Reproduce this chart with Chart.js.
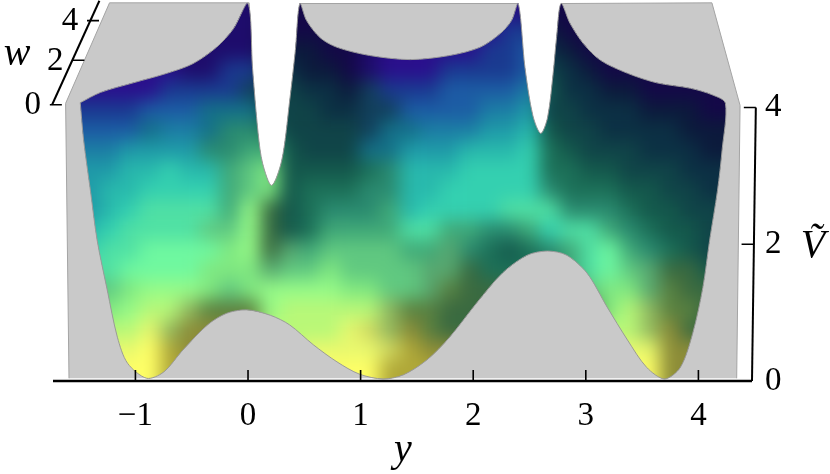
<!DOCTYPE html>
<html>
<head>
<meta charset="utf-8">
<style>
  body { margin: 0; background: #fff; }
  canvas { display: block; }
</style>
<script src="https://cdn.jsdelivr.net/npm/chart.js@4"></script>
</head>
<body>
<canvas id="surfaceChart" width="830" height="474"></canvas>
<script>
// axis ticks
const yTicks = [-1, 0, 1, 2, 3, 4];
const yTickLabels = ['\u22121', '0', '1', '2', '3', '4'];
const vTicks = [0, 2, 4];
const vTickAxisY = [4.476, 4.49, 4.51];
const wTickLabels = ['0', '2', '4'];
const wTickY = [-1.76, -1.56, -1.43];
const wTickV = [4.04, 4.69, 5.27];

// back walls of the box
const wallY = [-1.59, -1.62, -1.23, 0.01, 0.05, 0.21, 0.43, 0.46, 2.40, 2.44, 2.60, 2.75, 2.78, 4.12, 4.37, 4.34];
const wallV = [0.04, 4.06, 5.53, 5.53, 4.10, 1.18, 4.10, 5.52, 5.52, 4.10, 2.64, 4.69, 5.52, 5.53, 4.03, 0.04];

// outline of the surface as seen in the picture
const edgeY = [-1.49, -1.31, -1.02, -0.72, -0.49, -0.28, -0.13, 0.00,
  0.04, 0.09, 0.13, 0.21, 0.30, 0.37, 0.42, 0.46,
  0.52, 0.64, 0.79, 1.08, 1.44, 1.79, 2.06, 2.24, 2.34, 2.40,
  2.46, 2.53, 2.60, 2.66, 2.71, 2.74, 2.78,
  2.86, 2.98, 3.13, 3.37, 3.63, 3.93, 4.13, 4.24,
  4.21, 4.17, 4.10, 4.04, 3.95, 3.84, 3.70, 3.54, 3.37, 3.19, 3.01, 2.83, 2.66, 2.48, 2.26, 2.03, 1.79, 1.59, 1.38, 1.20, 0.99, 0.79, 0.58, 0.37, 0.20, -0.01, -0.19, -0.36, -0.58, -0.75, -0.90, -1.07, -1.16, -1.25, -1.34, -1.40, -1.46, -1.49];
const edgeV = [4.07, 4.22, 4.36, 4.50, 4.64, 4.88, 5.15, 5.52,
  4.58, 3.62, 3.18, 2.86, 3.23, 4.10, 4.83, 5.52,
  5.27, 5.02, 4.88, 4.76, 4.70, 4.76, 4.88, 5.08, 5.27, 5.52,
  4.58, 3.88, 3.62, 3.85, 4.50, 5.02, 5.52,
  5.23, 4.93, 4.69, 4.50, 4.36, 4.28, 4.18, 4.06,
  3.37, 2.79, 2.06, 1.37, 0.70, 0.20, 0.03, 0.20, 0.60, 1.08, 1.58, 1.84, 1.90, 1.84, 1.58, 1.14, 0.64, 0.31, 0.09, 0.03, 0.10, 0.28, 0.53, 0.82, 0.96, 1.04, 0.99, 0.82, 0.45, 0.13, 0.04, 0.26, 0.64, 1.33, 2.06, 2.79, 3.52, 4.07];

// axis lines
const xAxisY = [-1.732, 4.476];
const xAxisV = [0, 0];
const vAxisY = [4.476, 4.51];
const vAxisV = [0, 4];
const wAxisY = [-1.74, -1.32];
const wAxisV = [4.04, 5.56];

// colour samples, one letter per cell
const cellY = [-1.58, -1.40, -1.23, -1.05, -0.87, -0.69, -0.52, -0.34, -0.16, 0.02,
  0.20, 0.37, 0.55, 0.73, 0.91, 1.08, 1.26, 1.44, 1.62, 1.79,
  1.97, 2.15, 2.33, 2.50, 2.68, 2.86, 3.04, 3.21, 3.39, 3.57,
  3.75, 3.93, 4.10, 4.28];
const cellV = [5.42, 5.12, 4.83, 4.54, 4.25, 3.96, 3.66, 3.37, 3.08, 2.79, 2.50, 2.20, 1.91, 1.62, 1.33, 1.04, 0.74, 0.45, 0.16, -0.13];
const toneRows = [
  'NNNNNNNNNN OOOOOONMMM MMMNOOOOOO OOOO',
  'NNNNNNNNNN OOOOOONMMM MMLLPOOOOO OOOO',
  'NNNNNNNNNN PPPOONMMMM MLLKQPOOOO OOOO',
  'MMMMMMNNLL QQPPONMMML LLLKRQPOOO OOOO',
  'MMMMMLLLLe RRQQPeLLLK KKKJSQQPPO OOOO',
  'LLLLKKKddd RRRQQeeKKK KJJIRRQQQP PPOO',
  'KKKKdJJdUU TRRRReddJJ JIIHSRRQQQ QPPP',
  'JJJIIIIUUV VSRRRddIII HHHGTSRRRQ QQPP',
  'IIIHHGHHVW XSSSSTUHHH GGGGTTSSRR RQQQ',
  'IIHHGGGGVW XSTTTUUHHG GGGGUTTTSS RRQQ',
  'IIHGFFFFVD YSTUUUVHGG GGFFFUUUTS SRRR',
  'HHGFFFFWWD YSTVVVVFFV VUUVGFFVUT SSRR',
  'HGFFEEEEXD YcVWWWWVVc UTSTUVFEVU TSRR',
  'HFFEEEEXXX cWWXWWWWcc YTTTTVFEWc YYSS',
  'FWWXDDDXWX DDDDXXWWcZ YYYYYYWXXc ZYYY',
  'XXXDCCfZZZ DCCCCCfZZY YYYYYYYXCf ZZYY',
  'CCCCBfaaaa CCCCBgfaZY YYYYYYYCCf aYYY',
  'BBBBAbaaaa CCBBBBgbaa aaaaaaaBBB aaaa',
  'AAAAAbbbbb AAAAAAbbbb bbbbbbbAAA aaaa',
  'AAAAAbbbbb AAAAAAbbbb bbbbbbbAAA aaaa'
];
const tonePalette = {
  A: '#ffff66', B: '#e8f86e', C: '#b8f878', D: '#96fb88', E: '#6ff8a0', F: '#50e0a4',
  G: '#34d0b0', H: '#28b8ac', I: '#1f9aa8', J: '#1c7ea4', K: '#1c5ca4', L: '#1a3a90',
  M: '#2a0f8c', N: '#1e0c6c', O: '#140848', P: '#0c1a3c', Q: '#0c3044', R: '#104448',
  S: '#14584c', T: '#1c7058', U: '#2a8a70', V: '#40a878', W: '#60c880', X: '#80e880',
  Y: '#3a6a40', Z: '#5a8040', a: '#8c8c38', b: '#b0a838', c: '#58a870', d: '#147088',
  e: '#12405c', f: '#90b860', g: '#d0d860'
};

const pairs = (xs, ys) => xs.map((x, i) => ({ x: x, y: ys[i] }));

const cellPoints = [];
const cellColors = [];
toneRows.forEach((row, r) => {
  row.replace(/ /g, '').split('').forEach((tone, c) => {
    cellPoints.push({ x: cellY[c], y: cellV[r] });
    cellColors.push(tonePalette[tone]);
  });
});

const serif = '"Liberation Serif", "Times New Roman", serif';

function tracePath(chart, index, ctx) {
  const line = chart.getDatasetMeta(index).dataset;
  line.updateControlPoints(chart.chartArea, 'x');
  ctx.beginPath();
  line.path(ctx);
  ctx.closePath();
}

const surfacePlugin = {
  id: 'surfacePlugin',
  beforeDatasetDraw(chart, args) {
    const ds = chart.data.datasets[args.index];
    const ctx = chart.ctx;
    if (ds.solidFill) {
      ctx.save();
      tracePath(chart, args.index, ctx);
      ctx.fillStyle = ds.solidFill;
      ctx.fill();
      ctx.restore();
    }
    if (ds.clipToDataset !== undefined) {
      // cells go to a spare canvas first so the whole mosaic is blurred at once
      const spare = document.createElement('canvas');
      spare.width = chart.canvas.width;
      spare.height = chart.canvas.height;
      const spareCtx = spare.getContext('2d');
      const everywhere = { left: -100, top: -100, right: 2000, bottom: 2000 };
      args.meta.data.forEach(p => p.draw(spareCtx, everywhere));
      ctx.save();
      tracePath(chart, ds.clipToDataset, ctx);
      ctx.clip();
      ctx.drawImage(spare, 0, 0);
      ctx.filter = 'blur(9px)';
      ctx.drawImage(spare, 0, 0);
      ctx.restore();
      return false;
    }
  },
  afterDatasetsDraw(chart) {
    const ctx = chart.ctx;
    const x = chart.scales.x;
    const y = chart.scales.y;
    ctx.save();
    ctx.strokeStyle = '#000';
    ctx.fillStyle = '#000';
    ctx.lineWidth = 1.6;
    ctx.beginPath();
    yTicks.forEach(t => {
      const px = x.getPixelForValue(t);
      ctx.moveTo(px, y.bottom);
      ctx.lineTo(px, y.bottom - 11);
    });
    vTicks.forEach((t, i) => {
      if (t === 0) return;
      const px = x.getPixelForValue(vTickAxisY[i]);
      const py = y.getPixelForValue(t);
      ctx.moveTo(px, py);
      ctx.lineTo(px - 12, py);
    });
    wTickLabels.forEach((t, i) => {
      const px = x.getPixelForValue(wTickY[i]);
      const py = y.getPixelForValue(wTickV[i]);
      ctx.moveTo(px, py);
      ctx.lineTo(px + 12, py);
    });
    ctx.stroke();

    ctx.textAlign = 'center';
    ctx.textBaseline = 'middle';
    ctx.font = '33px ' + serif;
    wTickLabels.forEach((t, i) => {
      ctx.fillText(t, x.getPixelForValue(wTickY[i]) - 17, y.getPixelForValue(wTickV[i]) + 1);
    });
    ctx.font = 'italic 40px ' + serif;
    ctx.fillText('w', 17, 54);
    ctx.fillText('y', 403, 450);
    ctx.fillText('\u1E7C', 813, 246);
    ctx.restore();
  }
};

const lineSet = (points, extra) => Object.assign({
  data: points, showLine: true, pointRadius: 0, pointHoverRadius: 0, fill: false, clip: false, capBezierPoints: false
}, extra);

// tick labels must not push the plot area in from the canvas edges
const noPadding = s => {
  s.paddingTop = 0;
  s.paddingBottom = 0;
  s.paddingLeft = 0;
  s.paddingRight = 0;
};

new Chart(document.getElementById('surfaceChart'), {
  type: 'scatter',
  data: {
    datasets: [
      lineSet(pairs(wallY, wallV), { order: 10, borderColor: '#a4a4a4', borderWidth: 1, solidFill: '#c9c9c9' }),
      { data: cellPoints, order: 9, pointStyle: 'rect', pointRadius: 14.6, pointBorderWidth: 0,
        backgroundColor: cellColors, pointBackgroundColor: cellColors, clipToDataset: 2, clip: false },
      lineSet(pairs(edgeY, edgeV), { order: 8, borderColor: '#9a9a9a', borderWidth: 1, tension: 0.3 }),
      lineSet(pairs(xAxisY, xAxisV), { order: 1, borderColor: '#000', borderWidth: 2.4 }),
      lineSet(pairs(vAxisY, vAxisV), { order: 1, borderColor: '#000', borderWidth: 2 }),
      lineSet(pairs(wAxisY, wAxisV), { order: 1, borderColor: '#000', borderWidth: 2 })
    ]
  },
  plugins: [surfacePlugin],
  options: {
    responsive: false,
    animation: false,
    devicePixelRatio: 1,
    layout: { padding: { left: 53, top: 0, right: 0, bottom: 0 } },
    plugins: { legend: { display: false }, tooltip: { enabled: false } },
    scales: {
      x: {
        type: 'linear',
        min: -1.732,
        max: 4.476,
        border: { display: false },
        grid: { display: false },
        afterFit: s => { s.height = 93; noPadding(s); },
        afterBuildTicks: s => { s.ticks = yTicks.map(v => ({ value: v })); },
        ticks: {
          color: '#000',
          font: { family: serif, size: 33 },
          padding: 8,
          maxRotation: 0,
          autoSkip: false,
          callback: v => yTickLabels[yTicks.indexOf(v)]
        }
      },
      y: {
        type: 'linear',
        position: 'right',
        min: 0,
        max: 5.358,
        border: { display: false },
        grid: { display: false },
        afterFit: s => { s.width = 78; noPadding(s); },
        afterBuildTicks: s => { s.ticks = vTicks.map(v => ({ value: v })); },
        ticks: {
          color: '#000',
          font: { family: serif, size: 33 },
          padding: 5,
          autoSkip: false,
          callback: v => String(v)
        }
      }
    }
  }
});
</script>
</body>
</html>
